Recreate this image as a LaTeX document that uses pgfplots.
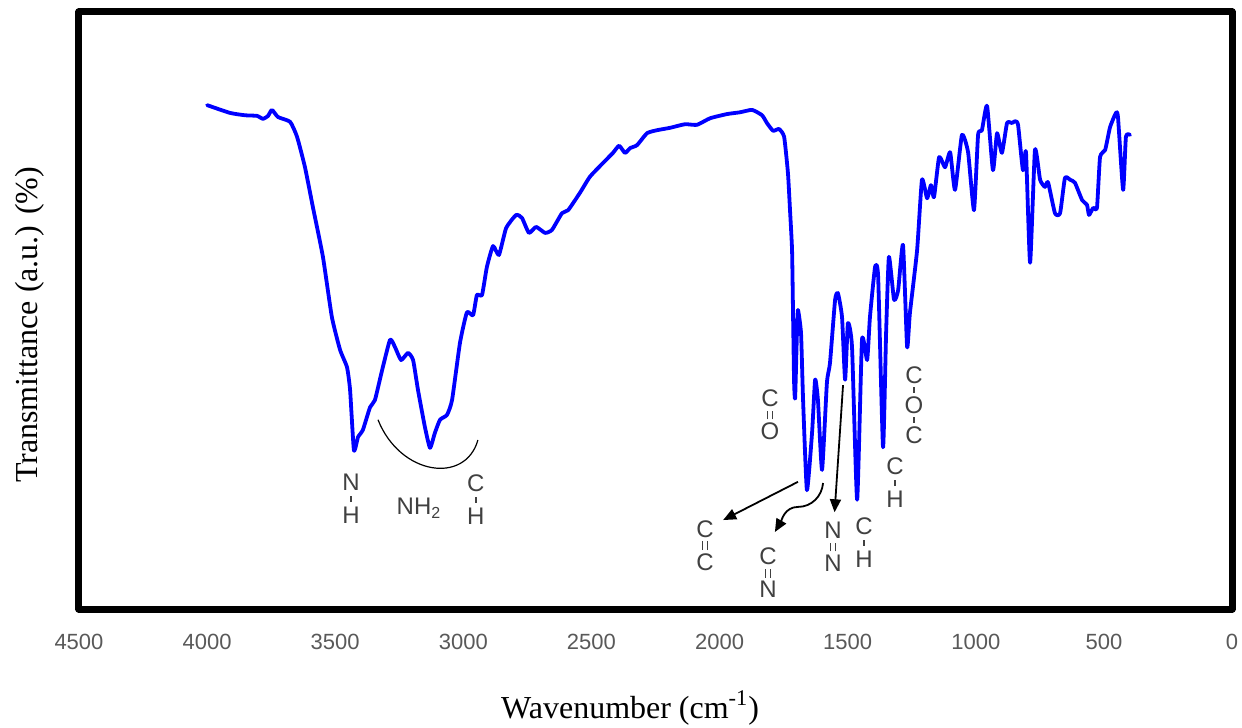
\documentclass[border=0pt]{standalone}
\usepackage{pgfplots}
\pgfplotsset{compat=1.18}
\usepackage{fontspec}
\setmainfont{Liberation Serif}
\newfontfamily\arial{Liberation Sans}
\usetikzlibrary{arrows.meta}

\definecolor{tickgray}{HTML}{595959}
\definecolor{grptext}{HTML}{404040}
\definecolor{specblue}{RGB}{0,0,255}

\tikzset{
  grp/.style={text=grptext, inner sep=0pt, font=\arial\fontsize{12}{14}\selectfont},
  bond/.style={grptext, line width=0.9pt},
  arr/.style={black, line width=0.9pt, -{Triangle[length=6.5pt,width=5.5pt]}}
}
% stacked atoms with a vertical single or double bond: x, y, top, bottom
\newcommand{\grpS}[4]{%
  \node[grp] at ([yshift=8.25pt]axis cs:#1,#2) {#3};
  \node[grp] at ([yshift=-8.25pt]axis cs:#1,#2) {#4};
  \draw[bond] ([yshift=-1.5pt]axis cs:#1,#2) -- ([yshift=1.5pt]axis cs:#1,#2);}
\newcommand{\grpD}[4]{%
  \node[grp] at ([yshift=8.25pt]axis cs:#1,#2) {#3};
  \node[grp] at ([yshift=-8.25pt]axis cs:#1,#2) {#4};
  \draw[bond, line width=0.6pt] ([xshift=-1.1pt,yshift=-2.2pt]axis cs:#1,#2) -- ([xshift=-1.1pt,yshift=2.2pt]axis cs:#1,#2);
  \draw[bond, line width=0.6pt] ([xshift=1.1pt,yshift=-2.2pt]axis cs:#1,#2) -- ([xshift=1.1pt,yshift=2.2pt]axis cs:#1,#2);}

\begin{document}
\begin{tikzpicture}
\begin{axis}[
  scale only axis, width=576.5pt, height=298.5pt,
  x dir=reverse, xmin=0, xmax=4500, ymin=0, ymax=100,
  xtick={0,500,...,4500}, ytick=\empty,
  major tick length=0pt,
  /pgf/number format/1000 sep={},
  /pgf/number format/assume math mode=true,
  xticklabel style={font=\arial\fontsize{11}{13}\selectfont, text=tickgray, anchor=center, yshift=-16.5pt},
  axis line style={line width=3.5pt, line join=round},
  xlabel={Wavenumber (cm\textsuperscript{-1})},
  ylabel={Transmittance (a.u.) (\%)},
  label style={font=\fontsize{16}{19}\selectfont},
  xlabel style={at={(axis description cs:0.478,-0.166)}, anchor=center},
  ylabel style={at={(axis description cs:-0.0425,0.476)}, anchor=center},
]
\addplot[specblue, line width=1.9pt, line join=round, line cap=round, smooth, tension=0.3] coordinates {
(4000,84.4) (3911,83.1) (3852,82.7) (3805,82.6) (3782,82.1) (3762,82.6) (3747,83.6)
(3723,82.4) (3676,81.6) (3649,79.1) (3618,74.0) (3587,67.3) (3548,59.0) (3513,48.9)
(3481,43.4) (3454,40.5) (3442,36.7) (3427,26.6) (3411,28.8) (3392,30.0) (3364,33.8)
(3345,35.0) (3317,40.0) (3286,45.1) (3267,43.9) (3243,41.7) (3216,42.9) (3196,41.7)
(3177,36.7) (3150,30.5) (3130,27.0) (3111,29.5) (3091,31.7) (3064,32.5) (3044,35.0)
(3013,44.6) (2986,49.7) (2962,49.2) (2947,52.6) (2927,52.6) (2908,57.3) (2884,60.8)
(2861,59.3) (2833,63.8) (2794,66.0) (2771,65.5) (2744,63.0) (2716,64.0) (2681,63.0)
(2654,63.5) (2615,66.3) (2591,66.8) (2545,69.7) (2506,72.4) (2455,74.7) (2416,76.4)
(2392,77.6) (2369,76.4) (2349,77.2) (2322,77.7) (2283,79.7) (2244,80.2) (2193,80.6)
(2135,81.2) (2088,81.1) (2037,82.2) (1971,82.9) (1920,83.2) (1873,83.6) (1834,82.7)
(1815,81.4) (1791,80.1) (1768,80.4) (1748,79.1) (1733,73.0) (1725,66.8) (1717,60.1)
(1713,48.9) (1709,37.9) (1705,35.3) (1698,46.2) (1694,50.1) (1682,46.2) (1674,35.0)
(1659,19.9) (1639,29.5) (1627,38.4) (1616,35.0) (1600,23.3) (1581,37.9) (1569,41.2)
(1549,51.8) (1538,52.9) (1522,48.9) (1510,38.4) (1499,47.9) (1483,43.9) (1463,18.3)
(1444,45.1) (1424,41.7) (1413,48.9) (1393,57.3) (1381,55.6) (1362,27.1) (1350,46.2)
(1339,59.0) (1319,51.8) (1303,53.4) (1284,61.0) (1268,43.9) (1257,49.6) (1229,60.1)
(1210,71.9) (1190,68.8) (1175,71.0) (1163,69.0) (1143,75.7) (1120,74.0) (1100,76.5)
(1081,70.2) (1054,79.4) (1030,76.5) (1007,66.8) (991,79.4) (976,80.2) (956,84.3)
(933,73.5) (917,79.7) (898,76.4) (878,81.4) (859,81.4) (847,81.7) (835,81.1)
(816,73.5) (804,76.5) (788,58.0) (769,76.9) (749,71.9) (730,70.7) (718,71.5)
(691,66.3) (671,66.3) (652,72.2) (632,71.9) (613,71.4) (585,68.5) (566,67.7)
(558,66.0) (542,67.2) (527,67.2) (515,75.7) (495,76.9) (476,80.7) (453,83.1)
(445,82.4) (425,70.2) (414,79.1) (398,79.4)
};

% NH2 arc
\draw[black, line width=0.6pt] (axis cs:3333,31.7) .. controls (axis cs:3247,22.4) and (axis cs:2993,20.8) .. (axis cs:2943,28.3);

% arrows
\draw[arr] (axis cs:1694,21.3) -- (axis cs:1986,14.9);
\draw[arr] (axis cs:1596,21.1) to[out=-95,in=0] (axis cs:1694,17.1) to[out=180,in=60] (axis cs:1784,12.9);
\draw[arr] (axis cs:1518,37.5) -- (axis cs:1551,16.2);

% group labels
\grpS{3438}{18.4}{N}{H}
\node[grp] at (axis cs:3173,16.9) {NH\textsubscript{2}};
\grpS{2951}{18.3}{C}{H}
\grpD{1803}{32.5}{C}{O}
\grpD{2057}{10.6}{C}{C}
\grpD{1811}{6.0}{C}{N}
\grpD{1557}{10.4}{N}{N}
\grpS{1436}{11.1}{C}{H}
\grpS{1315}{21.1}{C}{H}
% C-O-C
\node[grp] at ([yshift=15pt]axis cs:1241,34.2) {C};
\draw[bond] ([yshift=6.1pt]axis cs:1241,34.2) -- ([yshift=8.9pt]axis cs:1241,34.2);
\node[grp] at (axis cs:1241,34.2) {O};
\draw[bond] ([yshift=-6.1pt]axis cs:1241,34.2) -- ([yshift=-8.9pt]axis cs:1241,34.2);
\node[grp] at ([yshift=-15pt]axis cs:1241,34.2) {C};
\end{axis}
\pgfresetboundingbox
\path[use as bounding box] ([shift={(-39.5pt,-59pt)}]current axis.south west) rectangle ([shift={(5pt,6pt)}]current axis.north east);
\end{tikzpicture}
\end{document}
